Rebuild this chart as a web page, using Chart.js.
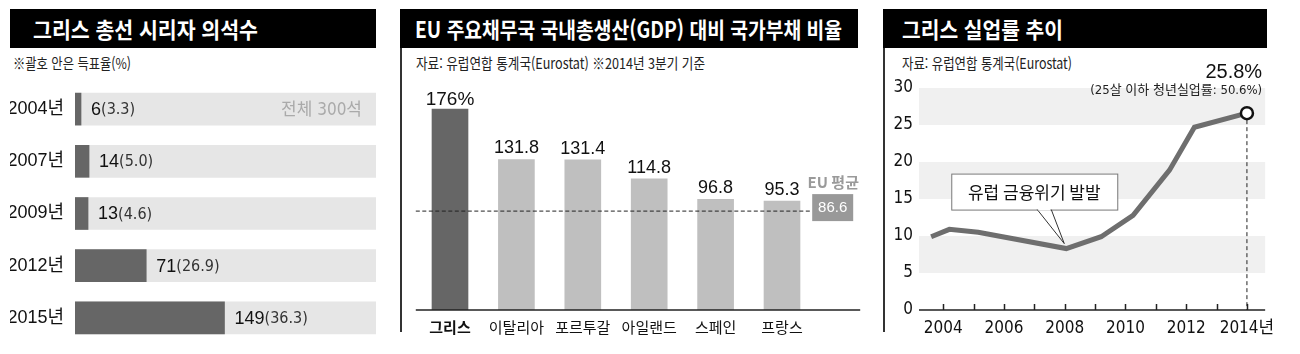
<!DOCTYPE html>
<html lang="ko">
<head>
<meta charset="UTF-8" />
<title>그리스 총선 · 국가부채 · 실업률</title>
<style>
  body { margin: 0; width: 1300px; height: 354px; background: #fff; position: relative; overflow: hidden;
         font-family: "Noto Sans CJK KR", sans-serif; }
  .head { position: absolute; top: 9px; height: 39px; background: #000; color: #fff; font-weight: bold;
          font-size: 22px; line-height: 39px; white-space: nowrap; overflow: hidden; }
  .head span, .sub span { display: inline-block; transform-origin: left center; }
  .sub { position: absolute; top: 53px; font-size: 15px; line-height: 20px; color: #222; white-space: nowrap;
         font-family: "Liberation Sans Narrow", "Noto Sans CJK KR", sans-serif; }
  .rule { position: absolute; top: 48px; width: 1.5px; height: 284px; background: #333; }
  .wrap { position: absolute; top: 60px; }
</style>
</head>
<body>
  <div class="head" style="left:10px; width:366px;"><span style="margin-left:23px" data-w="225">그리스 총선 시리자 의석수</span></div>
  <div class="sub" style="left:13px;"><span data-w="118">※괄호 안은 득표율(%)</span></div>

  <div class="head" style="left:400px; width:458px;"><span style="margin-left:15px" data-w="427">EU 주요채무국 국내총생산(GDP) 대비 국가부채 비율</span></div>
  <div class="sub" style="left:416px;"><span data-w="289">자료: 유럽연합 통계국(Eurostat) ※2014년 3분기 기준</span></div>
  <div class="rule" style="left:400px;"></div>

  <div class="head" style="left:883px; width:384px;"><span style="margin-left:19px" data-w="161">그리스 실업률 추이</span></div>
  <div class="sub" style="left:902px;"><span data-w="170">자료: 유럽연합 통계국(Eurostat)</span></div>
  <div class="rule" style="left:883px;"></div>

  <div class="wrap" style="left:0px;"><canvas id="seats" width="390" height="294"></canvas></div>
  <div class="wrap" style="left:400px;"><canvas id="debt" width="470" height="294"></canvas></div>
  <div class="wrap" style="left:883px;"><canvas id="jobless" width="400" height="294"></canvas></div>

  <script src="https://cdn.jsdelivr.net/npm/chart.js"></script>
  <script>
    // squeeze header texts to the widths seen in the print layout
    document.querySelectorAll("[data-w]").forEach((el) => {
      const w = el.getBoundingClientRect().width;
      el.style.transform = "scaleX(" + (+el.dataset.w / w) + ")";
    });

    const ARIAL = '"Liberation Sans", Arial, "Noto Sans CJK KR", sans-serif';
    const NARROW = '"Liberation Sans Narrow", "DejaVu Sans Condensed", "Noto Sans CJK KR", sans-serif';
    const KO = '"Noto Sans CJK KR", sans-serif';

    // ---- panel 1: Syriza seats
    const electionYears = ["2004년", "2007년", "2009년", "2012년", "2015년"];
    const syrizaSeats = [6, 14, 13, 71, 149];
    const syrizaVoteShare = ["3.3", "5.0", "4.6", "26.9", "36.3"];
    const totalSeats = 300;

    // ---- panel 2: debt to GDP
    const countries = ["그리스", "이탈리아", "포르투갈", "아일랜드", "스페인", "프랑스"];
    const debtRatio = [176, 131.8, 131.4, 114.8, 96.8, 95.3];
    const debtLabels = ["176%", "131.8", "131.4", "114.8", "96.8", "95.3"];
    const euAverage = 86.6;

    // ---- panel 3: unemployment rate
    const rateYears = [2003.6, 2004.2, 2005.15, 2008.05, 2009.2, 2010.25, 2011.45, 2012.27, 2014];
    const rateValues = [9.9, 10.9, 10.5, 8.3, 9.9, 12.8, 18.9, 24.7, 26.6];
    const yearTicks = [2004, 2005, 2006, 2007, 2008, 2009, 2010, 2011, 2012, 2013, 2014];
    const yTicks = [0, 5, 10, 15, 20, 25, 30];
    const latestRate = "25.8%";
    const youthNote = "(25살 이하 청년실업률: 50.6%)";
    const crisisNote = "유럽 금융위기 발발";
    const crisisIndex = 3;

    Chart.defaults.animation = false;
    Chart.defaults.plugins.legend.display = false;
    Chart.defaults.plugins.tooltip.enabled = false;

    // ================= panel 1
    const seatLabels = {
      id: "seatLabels",
      afterDatasetsDraw(chart) {
        const { ctx, scales: { x, y } } = chart;
        ctx.save();
        ctx.textBaseline = "middle";
        syrizaSeats.forEach((v, i) => {
          const py = y.getPixelForValue(i) + 1;
          let px = x.getPixelForValue(v) + 10;
          ctx.fillStyle = "#111";
          ctx.font = "18px " + ARIAL;
          const s = String(v);
          ctx.fillText(s, px, py);
          px += ctx.measureText(s).width;
          ctx.fillStyle = "#333";
          ctx.font = "16px " + NARROW;
          ctx.fillText("(" + syrizaVoteShare[i] + ")", px, py);
        });
        ctx.fillStyle = "#aaa";
        ctx.font = "17px " + NARROW;
        ctx.textAlign = "right";
        ctx.fillText("전체 " + totalSeats + "석", x.getPixelForValue(totalSeats) - 14, y.getPixelForValue(0) + 1);
        ctx.restore();
      },
    };

    new Chart(document.getElementById("seats"), {
      type: "bar",
      data: {
        labels: electionYears,
        datasets: [
          { data: syrizaSeats, backgroundColor: "#666", barThickness: 32, grouped: false },
          { data: electionYears.map(() => totalSeats), backgroundColor: "#e6e6e6", barThickness: 32, grouped: false },
        ],
      },
      options: {
        indexAxis: "y",
        responsive: false,
        layout: { padding: { left: 10, right: 14, top: 23, bottom: 10 } },
        scales: {
          x: { display: false, min: 0, max: totalSeats },
          y: {
            grid: { display: false, drawTicks: false },
            border: { display: false },
            ticks: { color: "#111", padding: 11, font: { family: ARIAL, size: 18 } },
            afterFit: (s) => { s.width = 65; s.paddingTop = 0; s.paddingBottom = 0; },
          },
        },
      },
      plugins: [seatLabels],
    });

    // ================= panel 2
    const debtDecor = {
      id: "debtDecor",
      afterDatasetsDraw(chart) {
        const { ctx, chartArea: a, scales: { x, y } } = chart;
        ctx.save();
        // base line
        ctx.strokeStyle = "#222";
        ctx.lineWidth = 1.5;
        ctx.beginPath();
        ctx.moveTo(a.left - 1, a.bottom);
        ctx.lineTo(a.right + 45, a.bottom);
        ctx.stroke();
        // EU average dashed line
        const ay = y.getPixelForValue(euAverage);
        ctx.lineWidth = 1;
        ctx.setLineDash([4, 2.5]);
        ctx.beginPath();
        ctx.moveTo(a.left - 1, ay);
        ctx.lineTo(a.right - 3, ay);
        ctx.stroke();
        ctx.setLineDash([]);
        // average box
        ctx.fillStyle = "#999";
        ctx.fillRect(a.right - 3, ay - 17, 41, 27);
        ctx.fillStyle = "#fff";
        ctx.textAlign = "center";
        ctx.textBaseline = "middle";
        ctx.font = "15px " + ARIAL;
        ctx.fillText(String(euAverage), a.right + 17.5, ay - 3);
        ctx.fillStyle = "#9a9a9a";
        ctx.font = "bold 15px " + KO;
        ctx.fillText("EU 평균", a.right + 18, ay - 29);
        // values
        ctx.fillStyle = "#111";
        ctx.textBaseline = "alphabetic";
        debtRatio.forEach((v, i) => {
          ctx.font = (i === 0 ? "19px " : "18px ") + ARIAL;
          ctx.fillText(debtLabels[i], x.getPixelForValue(i), y.getPixelForValue(v) - (i === 0 ? 4 : 6));
        });
        ctx.restore();
      },
    };

    new Chart(document.getElementById("debt"), {
      type: "bar",
      data: {
        labels: countries,
        datasets: [{
          data: debtRatio,
          backgroundColor: (c) => (c.dataIndex === 0 ? "#666" : "#bfbfbf"),
          barThickness: 36,
        }],
      },
      options: {
        responsive: false,
        layout: { padding: { left: 16.8, right: 54.8, top: 21.6, bottom: 0 } },
        scales: {
          y: { display: false, min: 0, max: 200 },
          x: {
            grid: { display: false, drawTicks: false },
            border: { display: false },
            ticks: {
              color: "#111",
              padding: 8,
              font: (c) => ({ family: KO, size: 15, weight: c.index === 0 ? "bold" : "normal" }),
            },
            afterFit: (s) => { s.height = 44; },
          },
        },
      },
      plugins: [debtDecor],
    });

    // ================= panel 3
    const bandRanges = [[5, 10], [15, 20], [25, 30]];
    const joblessDecor = {
      id: "joblessDecor",
      beforeDatasetsDraw(chart) {
        const { ctx, chartArea: a, scales: { x, y } } = chart;
        ctx.save();
        ctx.fillStyle = "#f0f0f0";
        bandRanges.forEach(([lo, hi]) => {
          const t = y.getPixelForValue(hi), b = y.getPixelForValue(lo);
          ctx.fillRect(a.left, t, a.right - a.left, b - t);
        });
        // axis with upward ticks
        ctx.strokeStyle = "#222";
        ctx.lineWidth = 1.5;
        ctx.beginPath();
        ctx.moveTo(a.left, a.bottom);
        ctx.lineTo(a.right, a.bottom);
        yearTicks.forEach((yr) => {
          const px = Math.round(x.getPixelForValue(yr)) + 0.5;
          ctx.moveTo(px, a.bottom);
          ctx.lineTo(px, a.bottom - 6);
        });
        ctx.stroke();
        // dashed drop line from the latest point
        const last = rateValues.length - 1;
        const lx = x.getPixelForValue(rateYears[last]);
        ctx.lineWidth = 1;
        ctx.setLineDash([4, 3]);
        ctx.beginPath();
        ctx.moveTo(lx, y.getPixelForValue(rateValues[last]));
        ctx.lineTo(lx, a.bottom);
        ctx.stroke();
        ctx.restore();
      },
      afterDatasetsDraw(chart) {
        const { ctx, chartArea: a, scales: { x, y } } = chart;
        ctx.save();
        // callout for 2008
        const px = x.getPixelForValue(rateYears[crisisIndex]);
        const py = y.getPixelForValue(rateValues[crisisIndex]);
        const bx = px - 115, by = py - 75, bw = 166, bh = 36;
        ctx.fillStyle = "#fff";
        ctx.strokeStyle = "#777";
        ctx.lineWidth = 1;
        ctx.fillRect(bx, by, bw, bh);
        ctx.strokeRect(bx + 0.5, by + 0.5, bw, bh);
        ctx.strokeStyle = "#333";
        ctx.beginPath();
        ctx.moveTo(px - 29, by + bh);
        ctx.lineTo(px - 2, py - 5);
        ctx.lineTo(px - 15, by + bh);
        ctx.stroke();
        ctx.fillStyle = "#fff";
        ctx.fillRect(px - 28, by + bh - 1, 12, 2);
        ctx.fillStyle = "#111";
        ctx.font = "17px " + KO;
        ctx.textAlign = "center";
        ctx.textBaseline = "middle";
        ctx.fillText(crisisNote, bx + bw / 2, by + bh / 2 + 1);
        // latest value note
        ctx.textAlign = "right";
        ctx.font = "20px " + ARIAL;
        ctx.fillText(latestRate, a.right - 3, a.top - 16);
        ctx.fillStyle = "#222";
        ctx.font = "13px " + NARROW;
        ctx.fillText(youthNote, a.right - 3, a.top + 3);
        ctx.restore();
      },
    };

    const lastIdx = rateValues.length - 1;
    new Chart(document.getElementById("jobless"), {
      type: "line",
      data: {
        datasets: [{
          data: rateYears.map((yr, i) => ({ x: yr, y: rateValues[i] })),
          borderColor: "#6e6e6e",
          borderWidth: 5,
          tension: 0,
          pointRadius: (c) => (c.dataIndex === lastIdx ? 6 : 0),
          pointBackgroundColor: "#fff",
          pointBorderColor: "#111",
          pointBorderWidth: 2.5,
          clip: false,
        }],
      },
      options: {
        responsive: false,
        layout: { padding: { left: 0, right: 15, top: 28, bottom: 0 } },
        scales: {
          x: {
            type: "linear",
            min: 2003.2,
            max: 2014.6,
            grid: { display: false, drawTicks: false },
            border: { display: false },
            afterBuildTicks: (s) => { s.ticks = yearTicks.map((v) => ({ value: v })); },
            ticks: {
              autoSkip: false,
              maxRotation: 0,
              color: "#111",
              padding: 8,
              font: { family: NARROW, size: 17 },
              callback: (v) => (v === 2014 ? "2014년" : v % 2 === 0 ? String(v) : ""),
            },
            afterFit: (s) => { s.height = 44; },
          },
          y: {
            min: 0,
            max: 30,
            grid: { display: false, drawTicks: false },
            border: { display: false },
            afterBuildTicks: (s) => { s.ticks = yTicks.map((v) => ({ value: v })); },
            ticks: { color: "#111", padding: 6, font: { family: NARROW, size: 17 } },
            afterFit: (s) => { s.width = 36; },
          },
        },
      },
      plugins: [joblessDecor],
    });
  </script>
</body>
</html>
